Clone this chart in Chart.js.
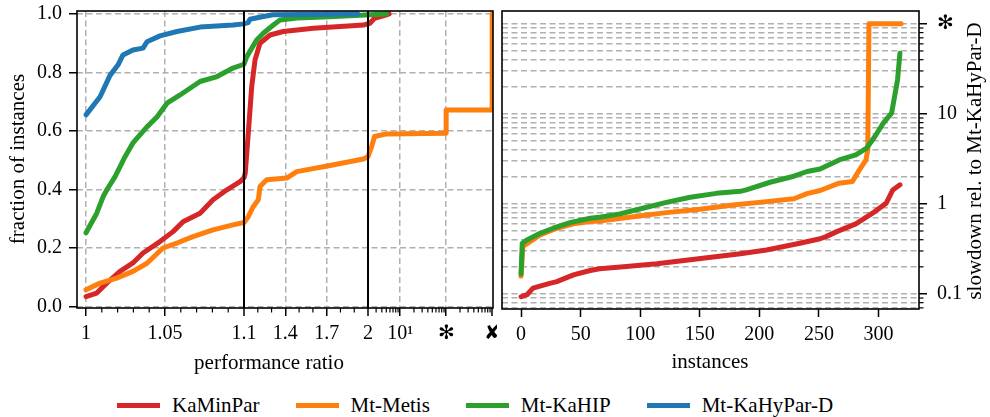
<!DOCTYPE html>
<html>
<head>
<meta charset="utf-8">
<script src="https://cdn.jsdelivr.net/npm/chart.js@4.4.1/dist/chart.umd.min.js"></script>
<style>
  body { margin: 0; background: #fff; }
  #figure { position: relative; width: 990px; height: 417px; font-family: 'Liberation Serif', serif; }
  #profile { position: absolute; left: 0; top: 0; }
  #slowdown { position: absolute; left: 495px; top: 0; }
  #legend { position: absolute; left: 117px; top: 395px; height: 21px; display: flex; align-items: center; font-size: 21px; color: #000; }
  .item { display: flex; align-items: center; margin-right: 36px; }
  .swatch { width: 43px; height: 5.5px; margin-right: 12px; }
</style>
</head>
<body>
<div id="figure">
  <canvas id="profile" width="497" height="380"></canvas>
  <canvas id="slowdown" width="495" height="380"></canvas>
  <div id="legend"></div>
</div>
<script>
const algorithms = ['KaMinPar', 'Mt-Metis', 'Mt-KaHIP', 'Mt-KaHyPar-D'];
const algorithmColors = ['#d62728', '#ff7f0e', '#2ca02c', '#1f77b4'];

// performance profile: [quality ratio to best, fraction of instances]
const kaminparProfile = [[1, 0.034], [1.0068, 0.046], [1.0131, 0.08], [1.0215, 0.12], [1.0297, 0.149],
  [1.0361, 0.183], [1.0468, 0.222], [1.0551, 0.256], [1.0614, 0.29], [1.0722, 0.319], [1.0804, 0.365],
  [1.0892, 0.399], [1.0975, 0.427], [1.1, 0.44], [1.109, 0.456], [1.131, 0.592], [1.156, 0.752],
  [1.18, 0.843], [1.216, 0.9], [1.289, 0.928], [1.385, 0.94], [1.603, 0.951], [1.966, 0.962],
  [2.2, 0.968], [2.77, 0.985], [5.06, 0.997], [5.75, 1.0]];
const metisProfile = [[1, 0.057], [1.0089, 0.08], [1.0194, 0.097], [1.0297, 0.12], [1.0386, 0.148],
  [1.0487, 0.2], [1.0576, 0.217], [1.0677, 0.239], [1.0804, 0.262], [1.093, 0.279], [1.1, 0.287],
  [1.131, 0.307], [1.168, 0.342], [1.204, 0.365], [1.216, 0.41], [1.265, 0.433], [1.41, 0.439],
  [1.483, 0.461], [1.724, 0.482], [1.966, 0.504], [2.0, 0.512], [2.4, 0.547], [2.77, 0.581],
  [5.06, 0.59], [100, 0.592], [100, 0.672], [1000, 0.672], [1000, 1.0]];
const kahipProfile = [[1, 0.252], [1.0068, 0.319], [1.0108, 0.375], [1.0133, 0.4], [1.0184, 0.444],
  [1.0247, 0.512], [1.0297, 0.559], [1.0386, 0.614], [1.0449, 0.648], [1.0513, 0.695], [1.0595, 0.723],
  [1.0722, 0.769], [1.083, 0.786], [1.093, 0.815], [1.1, 0.828], [1.12, 0.854], [1.192, 0.911],
  [1.24, 0.934], [1.313, 0.962], [1.361, 0.979], [1.485, 0.986], [1.724, 0.99], [2.2, 0.997], [5.0, 1.0]];
const kahyparProfile = [[1, 0.655], [1.0089, 0.717], [1.0152, 0.79], [1.0203, 0.826], [1.0234, 0.86],
  [1.0297, 0.877], [1.0361, 0.883], [1.0386, 0.905], [1.0468, 0.925], [1.0576, 0.94], [1.0722, 0.955],
  [1.093, 0.962], [1.1, 0.966], [1.129, 0.97], [1.1435, 0.982], [1.24, 0.991], [1.31, 0.997], [1.925, 1.0]];

// running time relative to Mt-KaHyPar-D per instance (sorted); 100 = timeout
const kaminparSlowdown = [[0, 0.093], [5, 0.098], [10, 0.116], [24, 0.131], [30, 0.137], [44, 0.163],
  [58, 0.182], [66, 0.19], [86, 0.2], [114, 0.216], [142, 0.24], [170, 0.265], [184, 0.28], [206, 0.308],
  [234, 0.365], [251, 0.41], [256, 0.433], [265, 0.492], [281, 0.6], [295, 0.789], [306.5, 1.02],
  [312, 1.43], [318, 1.63]];
const metisSlowdown = [[0, 0.158], [1.5, 0.336], [16, 0.453], [30, 0.537], [44, 0.6], [58, 0.636],
  [66, 0.645], [94, 0.72], [122, 0.8], [150, 0.87], [178, 0.97], [206, 1.06], [229, 1.14], [240, 1.3],
  [251, 1.41], [267, 1.7], [278, 1.77], [284, 2.39], [289.5, 3.08], [291, 3.98], [292, 100], [319, 100]];
const kahipSlowdown = [[0, 0.167], [1, 0.366], [5, 0.398], [16, 0.472], [27, 0.537], [41, 0.62],
  [58, 0.694], [66, 0.71], [83, 0.775], [103, 0.9], [122, 1.04], [142, 1.185], [164, 1.31], [184, 1.38],
  [189, 1.43], [209, 1.74], [229, 2.03], [240, 2.29], [251, 2.44], [267, 3.08], [281, 3.5], [290, 4.16],
  [297, 5.6], [304, 7.9], [311, 10.2], [313.5, 15.6], [316, 23.9], [318, 47.3]];

const ratioTicks = [1, 1.05, 1.1, 1.4, 1.7, 2, 10, 100, 1000];
const ratioTickLabels = ['1', '1.05', '1.1', '1.4', '1.7', '2', '10¹', '✻', '✘'];
const ratioBreaks = [1.1, 2];
const fractionTicks = [0, 0.2, 0.4, 0.6, 0.8, 1];
const instanceTicks = [0, 50, 100, 150, 200, 250, 300];
const slowdownTicks = [0.1, 1, 10, 100];
const slowdownTickLabels = ['0.1', '1', '10', '✻'];

const FONT = "'Liberation Serif', serif";
const GRID = '#b0b0b0';
Chart.defaults.font.family = FONT;
Chart.defaults.font.size = 20;
Chart.defaults.color = '#000';

// minor ticks of the ratio axis
const ratioMinorTicks = [];
for (let k = 1; k < 10; k++) if (k !== 5) ratioMinorTicks.push(1 + k / 100);
[1.2, 1.3, 1.5, 1.6, 1.8, 1.9].forEach(v => ratioMinorTicks.push(v));
for (const dec of [1, 10, 100]) for (let d = 2; d < 10; d++) if (d * dec > 2) ratioMinorTicks.push(d * dec);

// every decade step of the slowdown axis gets a grid line
const slowdownMin = 0.068, slowdownMax = 139;
const slowdownGrid = [];
for (const dec of [0.01, 0.1, 1, 10]) for (let d = 1; d < 10; d++) slowdownGrid.push(+(d * dec).toPrecision(3));
slowdownGrid.push(100);
const slowdownLines = slowdownGrid.filter(v => v >= slowdownMin && v <= slowdownMax);

// ratio axis: linear on [1, 1.1], compressed linear on [1.1, 2], log above 2
function ratioUnits(r) {
  if (r <= 1.1) return (r - 1) * 1580;
  if (r <= 2) return 158 + (r - 1.1) / 0.9 * 124;
  return 282 + Math.log10(r / 2) * 46;
}
function unitsToRatio(u) {
  if (u <= 158) return 1 + u / 1580;
  if (u <= 282) return 1.1 + (u - 158) / 124 * 0.9;
  return 2 * Math.pow(10, (u - 282) / 46);
}

class PerfRatioScale extends Chart.LinearScale {
  static id = 'perfratio';
  static defaults = {};
  getPixelForValue(value) {
    if (value === null || value === undefined) return NaN;
    const lo = ratioUnits(this.min), hi = ratioUnits(this.max);
    return this.getPixelForDecimal((ratioUnits(value) - lo) / (hi - lo));
  }
  getValueForPixel(pixel) {
    const lo = ratioUnits(this.min), hi = ratioUnits(this.max);
    return unitsToRatio(lo + this.getDecimalForPixel(pixel) * (hi - lo));
  }
}
Chart.register(PerfRatioScale);

// fixed axis box sizes so both plot frames sit where they should
function fixSize(size) {
  return scale => {
    scale.paddingLeft = scale.paddingRight = scale.paddingTop = scale.paddingBottom = 0;
    if (scale.isHorizontal()) scale.height = size; else scale.width = size;
  };
}
function setTicks(values) {
  return scale => { scale.ticks = values.map(v => ({ value: v })); };
}

// frame, break lines, minor tick marks and axis titles
const decorations = {
  id: 'decorations',
  afterDatasetsDraw(chart, args, opts) {
    const { ctx, chartArea: a } = chart;
    ctx.save();
    ctx.strokeStyle = '#000';
    ctx.lineWidth = 2;
    (opts.breaks || []).forEach(v => {
      const x = chart.scales.x.getPixelForValue(v);
      ctx.beginPath(); ctx.moveTo(x, a.top); ctx.lineTo(x, a.bottom); ctx.stroke();
    });
    ctx.lineWidth = 1.6;
    ctx.strokeRect(a.left, a.top, a.right - a.left, a.bottom - a.top);
    ctx.lineWidth = 1.2;
    (opts.minorX || []).forEach(v => {
      const x = chart.scales.x.getPixelForValue(v);
      ctx.beginPath(); ctx.moveTo(x, a.bottom); ctx.lineTo(x, a.bottom + 4.5); ctx.stroke();
    });
    (opts.minorY || []).forEach(v => {
      const y = chart.scales.y.getPixelForValue(v);
      ctx.beginPath(); ctx.moveTo(a.right, y); ctx.lineTo(a.right + 4.5, y); ctx.stroke();
    });
    ctx.fillStyle = '#000';
    ctx.font = '21px ' + FONT;
    ctx.textAlign = 'center';
    ctx.textBaseline = 'alphabetic';
    (opts.titles || []).forEach(t => {
      ctx.save();
      ctx.translate(t.x, t.y);
      if (t.vertical) ctx.rotate(-Math.PI / 2);
      ctx.fillText(t.text, 0, 0);
      ctx.restore();
    });
    ctx.restore();
  }
};

function lineDataset(points, i) {
  return {
    label: algorithms[i],
    data: points.map(([x, y]) => ({ x, y })),
    borderColor: algorithmColors[i],
    borderWidth: 5,
    pointRadius: 0,
    tension: 0,
    fill: false,
    order: algorithms.length - i,
    borderJoinStyle: 'round',
    borderCapStyle: 'round'
  };
}

const common = {
  responsive: false,
  animation: false,
  devicePixelRatio: 1,
  events: [],
};

new Chart(document.getElementById('profile'), {
  type: 'line',
  data: {
    datasets: [kaminparProfile, metisProfile, kahipProfile, kahyparProfile].map(lineDataset)
  },
  options: {
    ...common,
    layout: { padding: { left: 0, top: 11, right: 4, bottom: 0 } },
    plugins: {
      legend: { display: false },
      tooltip: { enabled: false },
      decorations: {
        breaks: ratioBreaks,
        minorX: ratioMinorTicks,
        titles: [
          { text: 'fraction of instances', x: 24, y: 159, vertical: true },
          { text: 'performance ratio', x: 269, y: 369 }
        ]
      }
    },
    scales: {
      x: {
        type: 'perfratio',
        min: 0.9943,
        max: 1043,
        bounds: 'data',
        afterBuildTicks: setTicks(ratioTicks),
        afterFit: fixSize(72),
        ticks: {
          autoSkip: false, maxRotation: 0, minRotation: 0, padding: 6,
          callback: (v) => ratioTickLabels[ratioTicks.indexOf(v)]
        },
        grid: {
          color: GRID,
          lineWidth: c => (c.tick && (ratioBreaks.includes(c.tick.value) || c.tick.value === 1000)) ? 0 : 1.5,
          tickColor: '#000', tickWidth: 1.5, tickLength: 8
        },
        border: { display: false, dash: [6, 3.5] }
      },
      y: {
        type: 'linear',
        min: -0.005,
        max: 1.01,
        bounds: 'data',
        afterBuildTicks: setTicks(fractionTicks),
        afterFit: fixSize(77),
        ticks: { padding: 7, callback: v => v.toFixed(1) },
        grid: { color: GRID, lineWidth: 1.5, tickColor: '#000', tickWidth: 1.5, tickLength: 8 },
        border: { display: false, dash: [6, 3.5] }
      }
    }
  },
  plugins: [decorations]
});

new Chart(document.getElementById('slowdown'), {
  type: 'line',
  data: {
    datasets: [kaminparSlowdown, metisSlowdown, kahipSlowdown].map(lineDataset)
  },
  options: {
    ...common,
    layout: { padding: { left: 7, top: 11, right: 0, bottom: 0 } },
    plugins: {
      legend: { display: false },
      tooltip: { enabled: false },
      decorations: {
        minorY: slowdownLines.filter(v => !slowdownTicks.includes(v)),
        titles: [
          { text: 'instances', x: 215, y: 368 },
          { text: 'slowdown rel. to Mt-KaHyPar-D', x: 486, y: 161, vertical: true }
        ]
      }
    },
    scales: {
      x: {
        type: 'linear',
        min: -16,
        max: 334,
        bounds: 'data',
        afterBuildTicks: setTicks(instanceTicks),
        afterFit: fixSize(71),
        ticks: { autoSkip: false, maxRotation: 0, padding: 6, callback: v => String(v) },
        grid: { display: true, drawOnChartArea: false, tickColor: '#000', tickWidth: 1.5, tickLength: 8 },
        border: { display: false }
      },
      y: {
        type: 'logarithmic',
        position: 'right',
        min: slowdownMin,
        max: slowdownMax,
        bounds: 'data',
        afterBuildTicks: setTicks(slowdownLines),
        afterFit: fixSize(71),
        ticks: {
          autoSkip: false, padding: 10,
          callback: v => { const k = slowdownTicks.indexOf(v); return k < 0 ? '' : slowdownTickLabels[k]; }
        },
        grid: {
          color: GRID, lineWidth: 1.5,
          tickColor: c => (c.tick && slowdownTicks.includes(c.tick.value)) ? '#000' : 'rgba(0,0,0,0)',
          tickWidth: 1.5, tickLength: 8
        },
        border: { display: false, dash: [6, 3.5] }
      }
    }
  },
  plugins: [decorations]
});

// shared legend below both panels
const legend = document.getElementById('legend');
algorithms.forEach((name, i) => {
  const item = document.createElement('div');
  item.className = 'item';
  const swatch = document.createElement('div');
  swatch.className = 'swatch';
  swatch.style.background = algorithmColors[i];
  const label = document.createElement('span');
  label.textContent = name;
  item.appendChild(swatch);
  item.appendChild(label);
  legend.appendChild(item);
});
</script>
</body>
</html>
